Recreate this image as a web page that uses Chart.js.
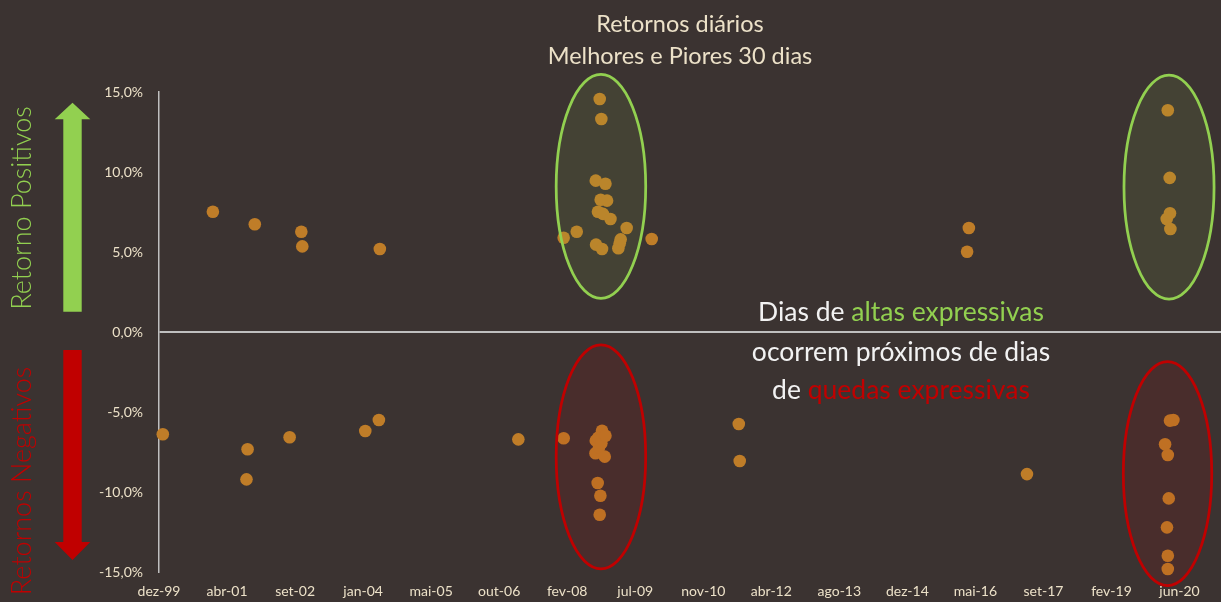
<!DOCTYPE html>
<html lang="pt">
  <head>
    <meta charset="UTF-8" />
    <title>Retornos diários - Melhores e Piores 30 dias</title>
    <script src="https://cdn.jsdelivr.net/npm/chart.js"></script>
    <style>
      html, body { margin: 0; padding: 0; background: #3b3331; }
      canvas { display: block; }
    </style>
  </head>
  <body>
    <canvas id="retornosChart" width="1221" height="602"></canvas>

    <script>
      // --- data ---
      const xTickLabels = [
        "dez-99", "abr-01", "set-02", "jan-04", "mai-05", "out-06", "fev-08", "jul-09",
        "nov-10", "abr-12", "ago-13", "dez-14", "mai-16", "set-17", "fev-19", "jun-20",
      ];
      const yTicks = [-15, -10, -5, 0, 5, 10, 15];

      const bestDates = [
        "2001-01-03", "2001-11-07", "2002-10-15", "2002-10-22", "2004-05-14",
        "2008-01-25", "2008-04-30", "2008-09-17", "2008-09-19", "2008-10-03",
        "2008-10-16", "2008-10-23", "2008-10-28", "2008-11-02", "2008-11-09",
        "2008-11-27", "2008-12-09", "2009-01-03", "2009-03-02", "2009-03-12",
        "2009-03-19", "2009-05-02", "2009-11-02", "2016-03-08", "2016-03-21",
        "2020-03-14", "2020-03-22", "2020-04-05", "2020-04-07", "2020-04-10",
      ];
      const bestReturns = [
        7.52, 6.73, 6.27, 5.35, 5.19,
        5.89, 6.27, 9.46, 5.46, 7.52,
        14.56, 8.27, 13.31, 5.19, 7.38,
        9.27, 8.21, 7.06, 5.23, 5.54,
        5.79, 6.5, 5.81, 5.02, 6.5,
        7.06, 13.86, 9.63, 7.42, 6.44,
      ];

      const worstDates = [
        "2000-01-01", "2001-09-07", "2001-09-15", "2002-07-21", "2004-01-28",
        "2004-05-07", "2007-02-26", "2008-01-25", "2008-09-15", "2008-09-17",
        "2008-10-01", "2008-10-05", "2008-10-11", "2008-10-16", "2008-10-21",
        "2008-10-28", "2008-11-02", "2008-11-22", "2008-11-27", "2011-08-04",
        "2011-08-11", "2017-05-22", "2020-03-02", "2020-03-16", "2020-03-22",
        "2020-03-22", "2020-03-22", "2020-03-29", "2020-04-07", "2020-05-02",
      ];
      const worstReturns = [
        -6.39, -9.21, -7.33, -6.58, -6.19,
        -5.5, -6.71, -6.64, -7.58, -6.79,
        -9.44, -6.6, -7.21, -11.42, -10.23,
        -6.96, -6.17, -7.79, -6.48, -5.75,
        -8.06, -8.88, -7.02, -12.21, -7.69,
        -13.98, -14.81, -10.4, -5.54, -5.5,
      ];

      // highlighted periods (centre date / centre value, half sizes in days and %)
      const highlightZones = [
        { date: "2008-10-25", mid: 9.1, halfDays: 329, halfPct: 7.0, kind: "up" },
        { date: "2008-10-25", mid: -7.8, halfDays: 329, halfPct: 7.0, kind: "down" },
        { date: "2020-03-31", mid: 9.05, halfDays: 331, halfPct: 7.0, kind: "up" },
        { date: "2020-03-20", mid: -8.85, halfDays: 325, halfPct: 7.0, kind: "down" },
      ];

      // --- helpers ---
      const axisStart = Date.UTC(1999, 11, 4);
      const tickStepDays = 500;
      function dayIndex(s) {
        const [y, m, d] = s.split("-").map(Number);
        return (Date.UTC(y, m - 1, d) - axisStart) / 86400000;
      }
      function toPoints(dates, values) {
        return dates.map((d, i) => ({ x: dayIndex(d), y: values[i] }));
      }

      const BG = "#3b3331";
      const GREEN = "#92d050";
      const RED = "#c00000";
      const DOT = "#bf7d28";
      const CREAM = "#ece1c8";
      const FONT = 'Lato, "Open Sans", sans-serif';

      function drawArrow(ctx, x, yTail, yTip, shaftHalf, headHalf, headLen, color) {
        const dir = yTip < yTail ? 1 : -1;
        const yBase = yTip + dir * headLen;
        ctx.beginPath();
        ctx.moveTo(x - shaftHalf, yTail);
        ctx.lineTo(x - shaftHalf, yBase);
        ctx.lineTo(x - headHalf, yBase);
        ctx.lineTo(x, yTip);
        ctx.lineTo(x + headHalf, yBase);
        ctx.lineTo(x + shaftHalf, yBase);
        ctx.lineTo(x + shaftHalf, yTail);
        ctx.closePath();
        ctx.fillStyle = color;
        ctx.fill();
      }

      function drawMixedLine(ctx, parts, cx, y) {
        const total = parts.reduce((s, p) => s + ctx.measureText(p[0]).width, 0);
        let x = cx - total / 2;
        ctx.textAlign = "left";
        parts.forEach(([txt, col]) => {
          ctx.fillStyle = col;
          ctx.fillText(txt, x, y);
          x += ctx.measureText(txt).width;
        });
      }

      const decorPlugin = {
        id: "decor",
        beforeDraw(chart) {
          const ctx = chart.ctx;
          ctx.save();
          ctx.fillStyle = BG;
          ctx.fillRect(0, 0, chart.width, chart.height);
          ctx.restore();
        },
        afterDatasetsDraw(chart) {
          const ctx = chart.ctx;
          const xs = chart.scales.x;
          const ys = chart.scales.y;
          ctx.save();
          highlightZones.forEach((z) => {
            const cx = xs.getPixelForValue(dayIndex(z.date));
            const cy = ys.getPixelForValue(z.mid);
            const rx = Math.abs(xs.getPixelForValue(dayIndex(z.date) + z.halfDays) - cx);
            const ry = Math.abs(ys.getPixelForValue(z.mid + z.halfPct) - cy);
            ctx.beginPath();
            ctx.ellipse(cx, cy, rx, ry, 0, 0, Math.PI * 2);
            ctx.fillStyle = z.kind === "up" ? "rgba(146,208,80,0.1)" : "rgba(192,0,0,0.1)";
            ctx.fill();
            ctx.lineWidth = 2.75;
            ctx.strokeStyle = z.kind === "up" ? GREEN : RED;
            ctx.stroke();
          });
          ctx.restore();
        },
        afterDraw(chart) {
          const ctx = chart.ctx;
          ctx.save();
          ctx.textBaseline = "middle";

          // title
          ctx.fillStyle = CREAM;
          ctx.textAlign = "center";
          ctx.font = "23.5px " + FONT;
          ctx.fillText("Retornos diários", 680, 24);
          ctx.fillText("Melhores e Piores 30 dias", 680, 56);

          // side arrows
          drawArrow(ctx, 72.5, 311.7, 102.7, 9.2, 17.8, 16.6, GREEN);
          drawArrow(ctx, 72.5, 350, 560, 9.2, 17.8, 18, RED);

          // rotated side labels
          ctx.font = "300 27px " + FONT;
          ctx.textAlign = "center";
          ctx.save();
          ctx.translate(22, 208);
          ctx.rotate(-Math.PI / 2);
          ctx.fillStyle = GREEN;
          ctx.fillText("Retorno Positivos", 0, 0);
          ctx.restore();
          ctx.save();
          ctx.translate(22, 481);
          ctx.rotate(-Math.PI / 2);
          ctx.fillStyle = RED;
          ctx.fillText("Retornos Negativos", 0, 0);
          ctx.restore();

          // annotation
          ctx.font = "26.5px " + FONT;
          drawMixedLine(ctx, [["Dias de ", "#f2f2f2"], ["altas expressivas", GREEN]], 901, 312);
          drawMixedLine(ctx, [["ocorrem próximos de dias", "#f2f2f2"]], 901, 352);
          drawMixedLine(ctx, [["de ", "#f2f2f2"], ["quedas expressivas", RED]], 901, 390);
          ctx.restore();
        },
      };

      const ctx = document.getElementById("retornosChart").getContext("2d");
      const retornosChart = new Chart(ctx, {
        type: "scatter",
        data: {
          datasets: [
            {
              label: "Melhores 30 dias",
              data: toPoints(bestDates, bestReturns),
              backgroundColor: DOT,
              borderWidth: 0,
              pointRadius: 6.3,
              clip: false,
            },
            {
              label: "Piores 30 dias",
              data: toPoints(worstDates, worstReturns),
              backgroundColor: DOT,
              borderWidth: 0,
              pointRadius: 6.3,
              clip: false,
            },
          ],
        },
        options: {
          responsive: false,
          animation: false,
          devicePixelRatio: 1,
          layout: { autoPadding: false, padding: { top: 92, right: 0, bottom: 0, left: 0 } },
          plugins: {
            legend: { display: false },
            tooltip: { enabled: false },
          },
          scales: {
            x: {
              type: "linear",
              min: 0,
              max: 7805,
              afterBuildTicks: (scale) => {
                scale.ticks = xTickLabels.map((_, i) => ({ value: i * tickStepDays }));
              },
              afterFit: (scale) => {
                scale.height = 30;
                scale.paddingLeft = 0;
                scale.paddingRight = 0;
              },
              ticks: {
                autoSkip: false,
                maxRotation: 0,
                padding: 11,
                color: CREAM,
                font: { family: FONT, size: 14 },
                callback: (value, index) => xTickLabels[index],
              },
              grid: { display: false, drawTicks: false },
              border: { display: false },
            },
            y: {
              min: yTicks[0],
              max: yTicks[yTicks.length - 1],
              afterBuildTicks: (scale) => {
                scale.ticks = yTicks.map((v) => ({ value: v }));
              },
              afterFit: (scale) => {
                scale.width = 159;
                scale.paddingTop = 0;
                scale.paddingBottom = 0;
              },
              ticks: {
                padding: 16,
                color: CREAM,
                font: { family: FONT, size: 14 },
                callback: (v) => v.toFixed(1).replace(".", ",") + "%",
              },
              grid: {
                drawTicks: false,
                lineWidth: 2,
                color: (c) => (c.tick && c.tick.value === 0 ? "#bfbfbf" : "rgba(0,0,0,0)"),
              },
              border: { display: true, color: "#bfbfbf", width: 1.5 },
            },
          },
        },
        plugins: [decorPlugin],
      });
    </script>
  </body>
</html>
